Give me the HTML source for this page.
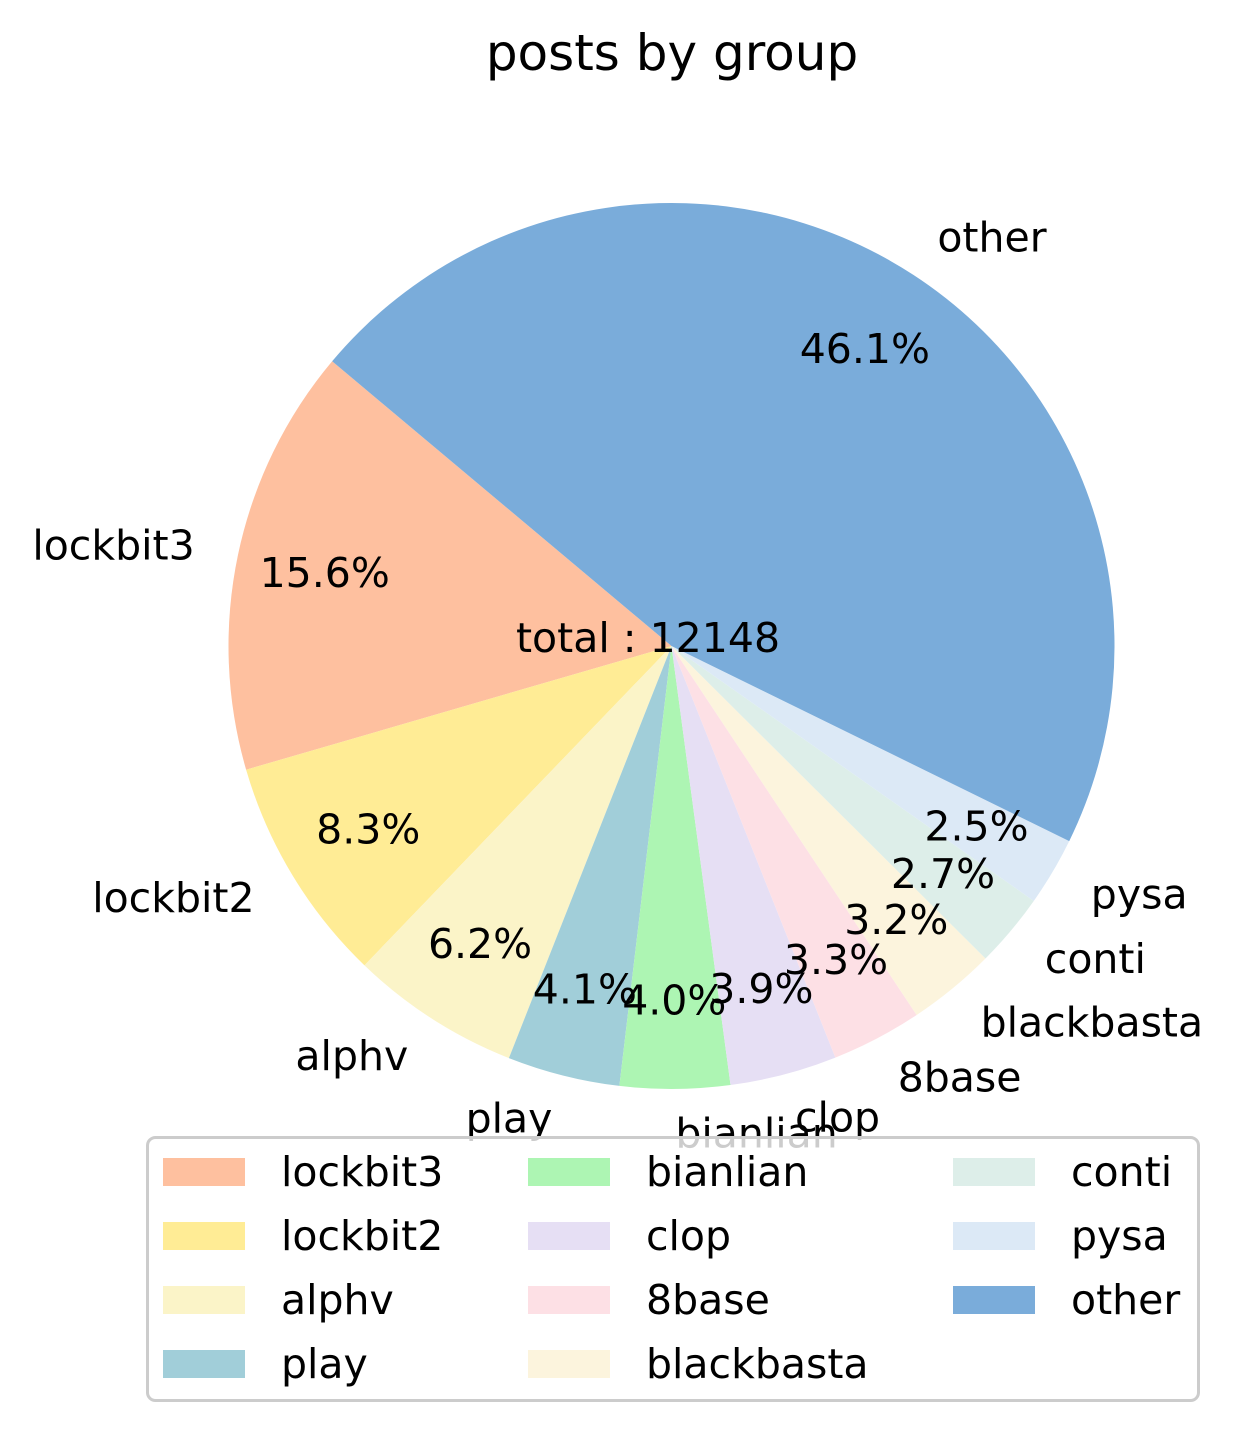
<!DOCTYPE html>
<html><head><meta charset="utf-8"><style>
html,body{margin:0;padding:0;background:#fff;}
svg{display:block;font-family:"DejaVu Sans","Liberation Sans",sans-serif;}
</style></head><body>
<svg id="chart" width="1256" height="1432" viewBox="0 0 1256 1432" xmlns="http://www.w3.org/2000/svg">
<text x="672" y="53" font-size="50" text-anchor="middle" dominant-baseline="central">posts by group</text>
<g id="wedges"></g>
<g id="labels"></g>
<text x="648" y="638" font-size="41" text-anchor="middle" dominant-baseline="central">total : 12148</text>
<g id="legend"></g>
</svg>
<script>
const categories = ["lockbit3","lockbit2","alphv","play","bianlian","clop","8base","blackbasta","conti","pysa","other"];
const percents = [15.6, 8.3, 6.2, 4.1, 4.0, 3.9, 3.3, 3.2, 2.7, 2.5, 46.1];
const pctLabels = ["15.6%","8.3%","6.2%","4.1%","4.0%","3.9%","3.3%","3.2%","2.7%","2.5%","46.1%"];
const colors = ["#fec09f","#ffec95","#fbf4c8","#a1ced9","#adf5b3","#e6dff4","#fde0e5","#fcf4dd","#ddeee9","#dce9f6","#7aacda"];

const NS = "http://www.w3.org/2000/svg";
const cx = 671.5, cy = 646, R = 443, start = 140;
const total = percents.reduce((a,b)=>a+b,0);
function pt(deg, r){ const a = deg*Math.PI/180; return [cx + r*Math.cos(a), cy - r*Math.sin(a)]; }
function mk(tag, attrs){ const e=document.createElementNS(NS,tag); for(const k in attrs) e.setAttribute(k,attrs[k]); return e; }
const gW = document.getElementById('wedges'), gL = document.getElementById('labels'), gLeg = document.getElementById('legend');
let ang = start;
percents.forEach((v,i)=>{
  const sweep = v/total*360;
  const a0 = ang, a1 = ang + sweep;
  const p0 = pt(a0,R), p1 = pt(a1,R);
  const large = sweep>180?1:0;
  const path = mk('path',{d:`M${cx},${cy} L${p0[0]},${p0[1]} A${R},${R} 0 ${large} 0 ${p1[0]},${p1[1]} Z`, fill:colors[i]});
  
  
  gW.appendChild(path);
  const mid = (a0+a1)/2;
  const lp = pt(mid, R*1.1);
  const right = Math.cos(mid*Math.PI/180) >= 0;
  const lt = mk('text',{x:lp[0], y:lp[1], 'font-size':41, 'text-anchor': right?'start':'end', 'dominant-baseline':'central'});
  lt.textContent = categories[i];
  
  
  gL.appendChild(lt);
  const pp = pt(mid, R*0.8);
  const pc = mk('text',{x:pp[0], y:pp[1], 'font-size':41, 'text-anchor':'middle', 'dominant-baseline':'central'});
  pc.textContent = pctLabels[i];
  
  
  gL.appendChild(pc);
  ang = a1;
});
const frame = mk('rect',{x:147.5,y:1137.5,width:1051,height:263,rx:8,fill:'#fff','fill-opacity':0.8,stroke:'#cccccc','stroke-width':3});


gLeg.appendChild(frame);
const colX = [163, 528, 953];
const rows = 4;
categories.forEach((c,i)=>{
  const col = Math.floor(i/rows), row = i%rows;
  const y = 1172 + row*64;
  const g = mk('g',{});
  
  
  g.appendChild(mk('rect',{x:colX[col], y:y-14, width:82, height:28, fill:colors[i]}));
  const t = mk('text',{x:colX[col]+118, y:y, 'font-size':41, 'dominant-baseline':'central'});
  t.textContent = c;
  g.appendChild(t);
  gLeg.appendChild(g);
});
</script>
</body></html>
